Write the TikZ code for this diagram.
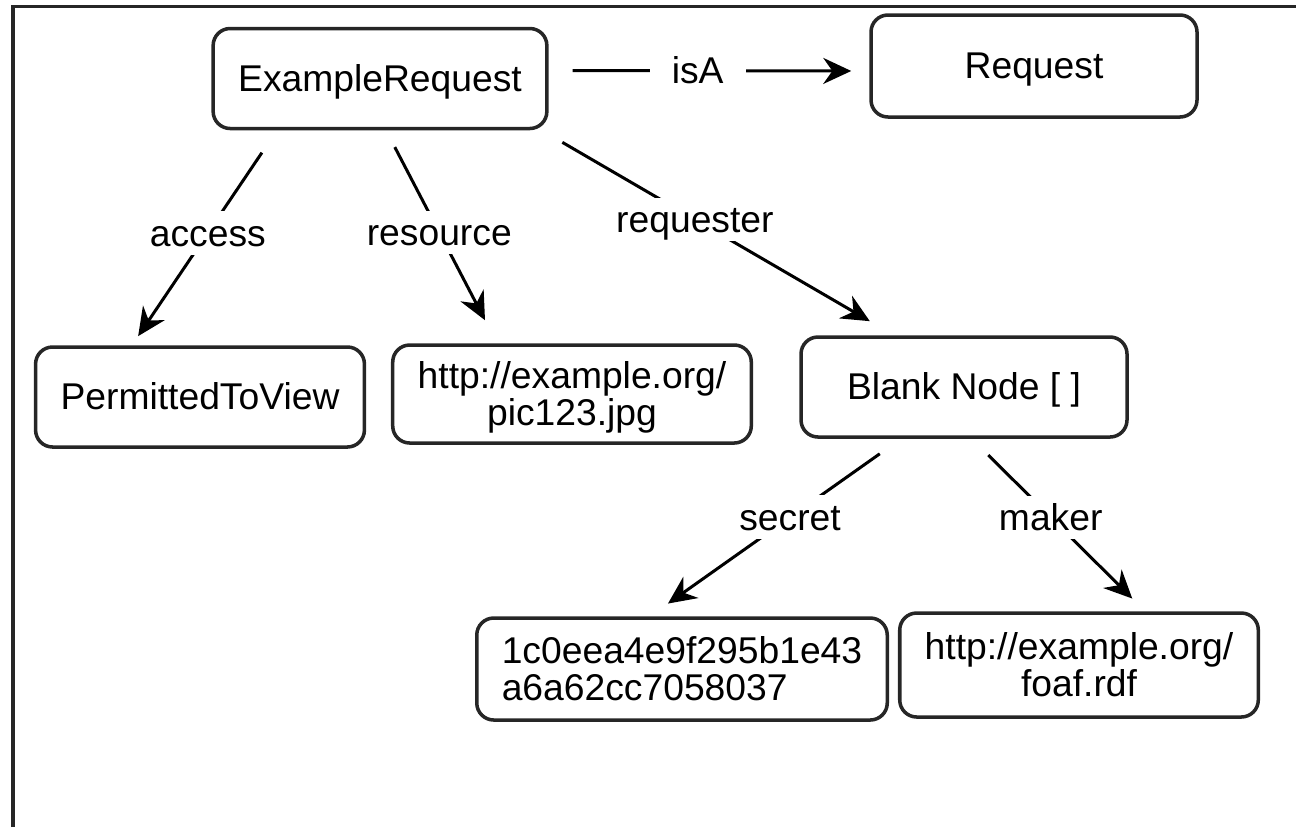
\documentclass[tikz,border=0pt]{standalone}
\usepackage{fontspec}
\setmainfont{Liberation Sans}
\usepackage{tikz}
\usetikzlibrary{arrows.meta,positioning,calc}

\tikzset{
  res/.style={draw=black!85, line width=1pt, rounded corners=1.7mm,
    minimum width=32.6mm, minimum height=10mm, inner xsep=2.5mm,
    text height=0.72em, text depth=0pt},
  restwo/.style={res, text height=0.72em+10.6pt, text depth=0pt},
  prop/.style={line width=0.3mm, -{Stealth[length=2.8mm,width=2.6mm]}},
  plabel/.style={fill=white, inner xsep=2.2mm, inner ysep=0pt,
    text height=3.5mm, text depth=0.85mm},
}

\begin{document}
\begin{tikzpicture}[x=0.1mm, y=-0.1mm, font=\fontsize{10.6}{10.6}\selectfont]
    \useasboundingbox (0,0) rectangle (1296,827);

    % Frame (top and left edge only)
    \draw[line width=1pt, black!85] (13,827) -- (13,6.5) -- (1296,6.5);

    % Resources
    \node[res] (er) at (380,78.5) {ExampleRequest};
    \node[res, minimum height=10.2mm] (req) at (1034,66) {Request};
    \node[res] (ptv) at (200,397) {PermittedToView};
    \node[restwo, align=center, minimum height=9.8mm] (pic) at (572,394) {http://example.org/\\pic123.jpg};
    \node[res] (bn) at (964,387) {Blank Node [ ]};
    \node[restwo, align=left, minimum height=10.2mm] (hash) at (682,669) {1c0eea4e9f295b1e43\\a6a62cc7058037};
    \node[restwo, align=center, minimum height=10.4mm] (foaf) at (1079,665) {http://example.org/\\foaf.rdf};

    % Properties
    \draw[prop, shorten <=2.4mm, shorten >=1.8mm] ($(er.east)+(0,-8)$) -- ($(req.west)+(0,5)$)
        node[plabel, pos=0.465] (isa) {isA};
    \draw[prop, shorten <=2.7mm, shorten >=1.1mm] ($(er.south)+(-103,0)$) -- ($(ptv.north)+(-68,0)$)
        node[plabel, pos=0.477] (acc) {access};
    \draw[prop, shorten <=1.9mm, shorten >=2.6mm] ($(er.south)+(6,0)$) -- ($(pic.north)+(-75,0)$)
        node[plabel, pos=0.48] (rsc) {resource};
    \draw[prop, shorten <=2.4mm, shorten >=2.8mm] ($(er.south east)+(-7,0)$) -- ($(bn.north)+(-70,0)$)
        node[plabel, pos=0.435] (rqr) {requester};
    \draw[prop, shorten <=2.6mm, shorten >=2.2mm] ($(bn.south)+(-63,0)$) -- ($(hash.north)+(-32,0)$)
        node[plabel, pos=0.442] (sct) {secret};
    \draw[prop, shorten <=2.3mm, shorten >=1.8mm] ($(bn.south)+(8,0)$) -- ($(foaf.north)+(66,0)$)
        node[plabel, pos=0.455] (mkr) {maker};
\end{tikzpicture}
\end{document}
